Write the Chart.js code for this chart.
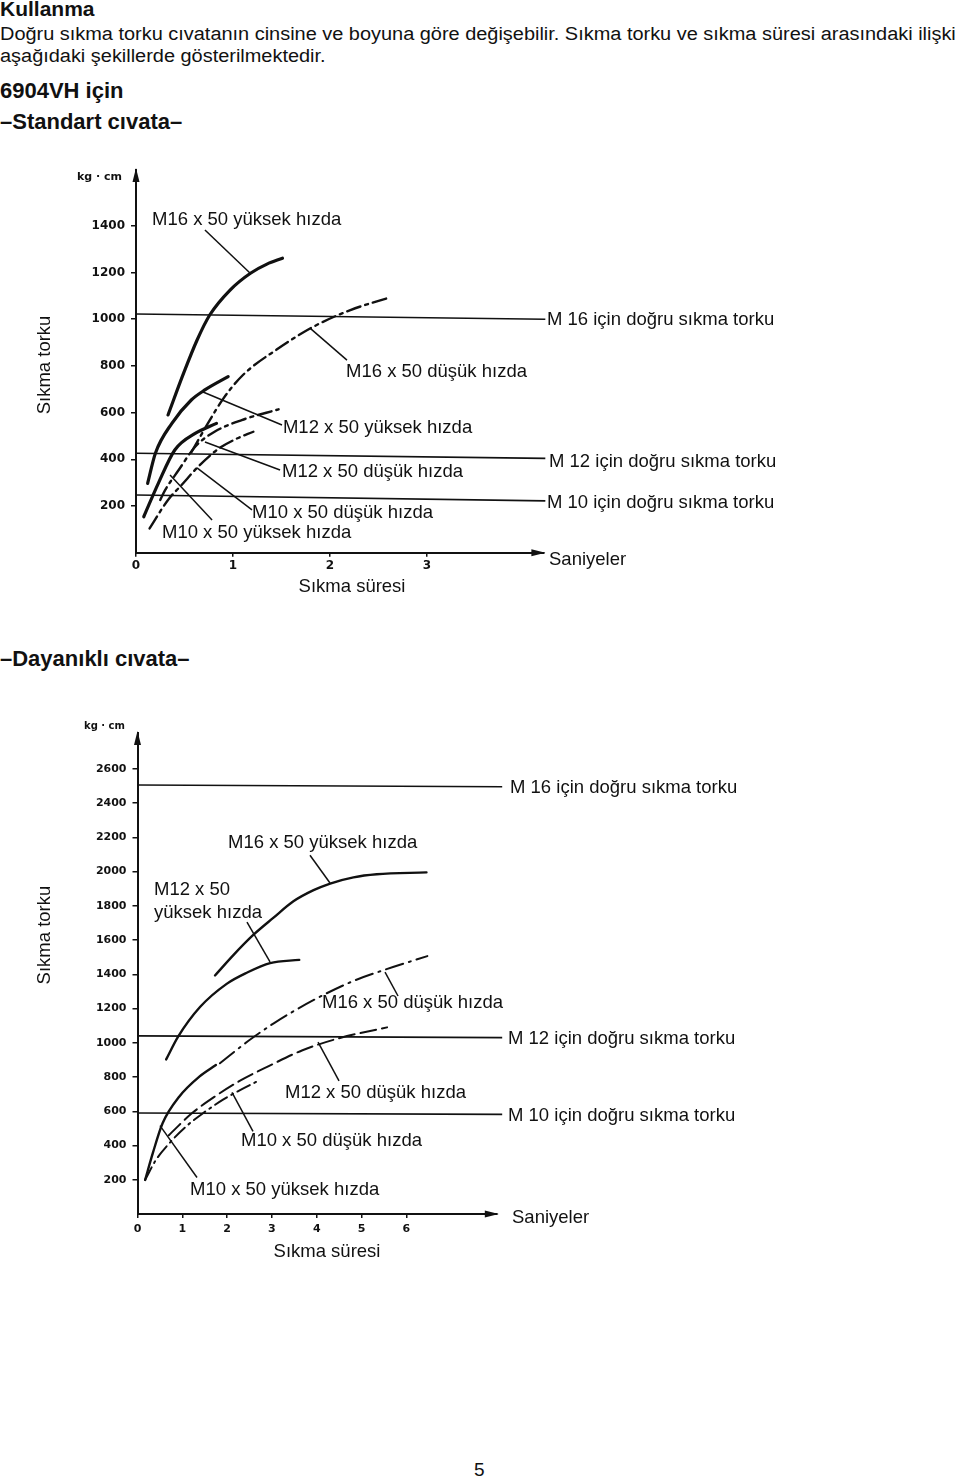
<!DOCTYPE html>
<html lang="tr">
<head>
<meta charset="utf-8">
<title>Sıkma torku ve sıkma süresi</title>
<script src="https://cdn.jsdelivr.net/npm/chart.js@4.4.1/dist/chart.umd.min.js"></script>
<style>
  body { margin: 0; background: #fff; }
  #page { position: relative; width: 960px; height: 1478px; overflow: hidden;
          font-family: "Liberation Sans", Arial, sans-serif; color: #111; }
  .txt { position: absolute; left: 0; white-space: nowrap; line-height: 1; }
  .wide { transform-origin: 0 0; transform: scaleX(1.107); }
  .bold { font-weight: bold; }
  canvas { position: absolute; left: 0; }
</style>
</head>
<body>
<div id="page">
  <div class="txt bold" style="top:-2px;font-size:21px">Kullanma</div>
  <div class="txt wide" style="top:25px;font-size:18px">Doğru sıkma torku cıvatanın cinsine ve boyuna göre değişebilir. Sıkma torku ve sıkma süresi arasındaki ilişki</div>
  <div class="txt wide" style="top:47px;font-size:18px">aşağıdaki şekillerde gösterilmektedir.</div>
  <div class="txt bold" style="top:80px;font-size:22px">6904VH için</div>
  <div class="txt bold" style="top:111px;font-size:22px">–Standart cıvata–</div>
  <canvas id="stdChart" width="960" height="460" style="top:150px"></canvas>
  <div class="txt bold" style="top:648px;font-size:22px">–Dayanıklı cıvata–</div>
  <canvas id="durChart" width="960" height="580" style="top:700px"></canvas>
  <div class="txt" style="top:1460px;left:474px;font-size:19px">5</div>
</div>

<script>
const INK = "#111";
const LABEL_FONT = "18.5px 'Liberation Sans', Arial, sans-serif";
Chart.defaults.font.family = "'DejaVu Sans', sans-serif";

// --- Standart cıvata: [saniye, kg·cm] ---
const std_m16_high = [[0.33, 590], [0.49, 768], [0.63, 911], [0.76, 1018], [0.97, 1125], [1.18, 1197], [1.35, 1236], [1.51, 1261]];
const std_m16_low = [[0.57, 430], [0.75, 560], [0.9, 660], [1.1, 760], [1.45, 870], [1.83, 968], [2.21, 1039], [2.62, 1094]];
const std_m12_high = [[0.12, 297], [0.2, 426], [0.37, 554], [0.57, 654], [0.71, 697], [0.95, 754]];
const std_m12_low = [[0.25, 226], [0.3, 268], [0.44, 354], [0.61, 454], [0.81, 518], [1.09, 568], [1.47, 614]];
const std_m10_high = [[0.08, 154], [0.23, 297], [0.4, 440], [0.61, 511], [0.83, 554]];
const std_m10_low = [[0.14, 104], [0.33, 226], [0.47, 290], [0.64, 368], [0.85, 445], [1.02, 485], [1.21, 518]];
// doğru sıkma torku çizgileri (baş, son)
const std_ref_m16 = [[0, 1022], [4.22, 1000]];
const std_ref_m12 = [[0, 426], [4.22, 404]];
const std_ref_m10 = [[0, 247], [4.22, 222]];
const std_x_ticks = [0, 1, 2, 3];
const std_y_ticks = [200, 400, 600, 800, 1000, 1200, 1400];

// --- Dayanıklı cıvata ---
const dur_m16_high = [[1.73, 1393], [2.14, 1512], [2.59, 1631], [3.03, 1729], [3.48, 1826], [3.93, 1891], [4.3, 1930], [4.82, 1966], [5.34, 1984], [6.45, 1995]];
const dur_m16_low = [[1.84, 880], [2.47, 1010], [3.05, 1115], [3.95, 1252], [4.82, 1361], [5.56, 1430], [6.47, 1506]];
const dur_m12_high = [[0.64, 903], [0.91, 1037], [1.4, 1210], [1.99, 1344], [2.44, 1409], [2.96, 1465], [3.61, 1484]];
const dur_m12_low = [[0.7, 460], [1.2, 585], [1.75, 690], [2.3, 780], [2.94, 865], [3.67, 955], [4.52, 1028], [5.57, 1090]];
const dur_m10_high = [[0.17, 199], [0.34, 354], [0.56, 530], [0.93, 685], [1.38, 802], [1.75, 870]];
const dur_m10_low = [[0.17, 199], [0.41, 315], [0.71, 413], [1.08, 510], [1.46, 588], [1.9, 666], [2.3, 725], [2.73, 782]];
const dur_ref_m16 = [[0, 2505], [8.14, 2495]];
const dur_ref_m12 = [[0, 1040], [8.14, 1030]];
const dur_ref_m10 = [[0, 590], [8.14, 582]];
const dur_x_ticks = [0, 1, 2, 3, 4, 5, 6];
const dur_y_ticks = [200, 400, 600, 800, 1000, 1200, 1400, 1600, 1800, 2000, 2200, 2400, 2600];

const notesPlugin = {
  id: "notes",
  afterDraw(chart, args, opts) {
    const { ctx, chartArea: a } = chart;
    const px = (v) => chart.scales.x.getPixelForValue(v);
    const py = (v) => chart.scales.y.getPixelForValue(v);
    ctx.save();
    ctx.strokeStyle = INK;
    ctx.fillStyle = INK;
    ctx.lineWidth = 1.5;
    opts.leaders.forEach(([x1, y1, x2, y2]) => {
      ctx.beginPath();
      ctx.moveTo(px(x1), py(y1));
      ctx.lineTo(px(x2), py(y2));
      ctx.stroke();
    });
    // axis arrow heads
    ctx.beginPath();
    ctx.moveTo(a.left, a.top - 2);
    ctx.lineTo(a.left - 3.5, a.top + 12);
    ctx.lineTo(a.left + 3.5, a.top + 12);
    ctx.closePath();
    ctx.fill();
    ctx.beginPath();
    ctx.moveTo(a.right + 2, a.bottom);
    ctx.lineTo(a.right - 12, a.bottom - 3.5);
    ctx.lineTo(a.right - 12, a.bottom + 3.5);
    ctx.closePath();
    ctx.fill();
    opts.texts.forEach((t) => {
      ctx.font = t.font || LABEL_FONT;
      ctx.textAlign = t.align || "left";
      ctx.textBaseline = t.baseline || "alphabetic";
      if (t.rotate) {
        ctx.save();
        ctx.translate(px(t.x), py(t.y));
        ctx.rotate(-Math.PI / 2);
        ctx.textAlign = "center";
        ctx.textBaseline = "middle";
        ctx.fillText(t.text, 0, 0);
        ctx.restore();
      } else {
        ctx.fillText(t.text, px(t.x), py(t.y));
      }
    });
    ctx.restore();
  },
};

function curve(points, width, dash) {
  return {
    data: points.map(([x, y]) => ({ x, y })),
    borderColor: INK,
    borderWidth: width,
    borderDash: dash || [],
    borderCapStyle: "round",
    pointRadius: 0,
    cubicInterpolationMode: "monotone",
    fill: false,
    clip: false,
  };
}

function refLine(points) {
  return {
    data: points.map(([x, y]) => ({ x, y })),
    borderColor: INK,
    borderWidth: 1.6,
    pointRadius: 0,
    tension: 0,
    clip: false,
  };
}

function makeChart(id, c) {
  const canvas = document.getElementById(id);
  return new Chart(canvas, {
    type: "line",
    data: { datasets: c.datasets },
    plugins: [notesPlugin],
    options: {
      responsive: false,
      animation: false,
      layout: { padding: { left: 0, top: c.box.top, right: canvas.width - c.box.right, bottom: 0 } },
      plugins: {
        legend: { display: false },
        tooltip: { enabled: false },
        notes: { texts: c.texts, leaders: c.leaders },
      },
      scales: {
        x: {
          type: "linear",
          position: "bottom",
          min: 0,
          max: c.xMax,
          afterBuildTicks: (s) => { s.ticks = c.xTicks.map((v) => ({ value: v })); },
          afterFit: (s) => { s.height = canvas.height - c.box.bottom; },
          border: { display: true, color: INK, width: 2 },
          grid: { drawOnChartArea: false, tickLength: 4, lineWidth: 1.5, color: INK },
          ticks: {
            autoSkip: false,
            maxRotation: 0,
            padding: c.xPad,
            color: INK,
            font: { size: c.tickSize, weight: "bold" },
            callback: (v) => String(v),
          },
        },
        y: {
          type: "linear",
          position: "left",
          min: 0,
          max: c.yMax,
          afterBuildTicks: (s) => { s.ticks = c.yTicks.map((v) => ({ value: v })); },
          afterFit: (s) => { s.width = c.box.left; },
          border: { display: true, color: INK, width: 2 },
          grid: { drawOnChartArea: false, tickLength: 5, lineWidth: 1.5, color: INK },
          ticks: {
            autoSkip: false,
            padding: 6,
            color: INK,
            font: { size: c.tickSize, weight: "bold" },
            callback: (v) => String(v),
          },
        },
      },
    },
  });
}

const DASH_DOT = [14, 5, 3, 5];

makeChart("stdChart", {
  box: { left: 136, top: 20, right: 543.4, bottom: 402.7 },
  xMax: 4.2,
  yMax: 1639,
  xTicks: std_x_ticks,
  yTicks: std_y_ticks,
  tickSize: 12,
  xPad: 2,
  datasets: [
    refLine(std_ref_m16),
    refLine(std_ref_m12),
    refLine(std_ref_m10),
    curve(std_m16_high, 3.2),
    curve(std_m16_low, 2.4, DASH_DOT),
    curve(std_m12_high, 3.2),
    curve(std_m12_low, 2.4, DASH_DOT),
    curve(std_m10_high, 3.2),
    curve(std_m10_low, 2.4, DASH_DOT),
  ],
  texts: [
    { text: "M16 x 50 yüksek hızda", x: 0.165, y: 1403 },
    { text: "M16 x 50 düşük hızda", x: 2.165, y: 753 },
    { text: "M12 x 50 yüksek hızda", x: 1.515, y: 513 },
    { text: "M12 x 50 düşük hızda", x: 1.505, y: 324 },
    { text: "M10 x 50 düşük hızda", x: 1.196, y: 149 },
    { text: "M10 x 50 yüksek hızda", x: 0.268, y: 63 },
    { text: "M 16 için doğru sıkma torku", x: 4.237, y: 975 },
    { text: "M 12 için doğru sıkma torku", x: 4.258, y: 367 },
    { text: "M 10 için doğru sıkma torku", x: 4.237, y: 192 },
    { text: "Saniyeler", x: 4.258, y: -53 },
    { text: "Sıkma süresi", x: 2.227, y: -169, align: "center" },
    { text: "kg · cm", x: -0.144, y: 1609, align: "right", baseline: "middle", font: "bold 11px 'DejaVu Sans', sans-serif" },
    { text: "Sıkma torku", x: -0.938, y: 804, rotate: true },
  ],
  leaders: [
    [0.711, 1382, 1.175, 1198],
    [2.175, 825, 1.794, 962],
    [1.505, 547, 0.691, 688],
    [1.485, 354, 0.711, 474],
    [1.196, 183, 0.629, 363],
    [0.784, 140, 0.351, 333],
  ],
});

makeChart("durChart", {
  box: { left: 137.5, top: 33, right: 496.8, bottom: 514 },
  xMax: 8.02,
  yMax: 2809,
  xTicks: dur_x_ticks,
  yTicks: dur_y_ticks,
  tickSize: 11,
  xPad: 5,
  datasets: [
    refLine(dur_ref_m16),
    refLine(dur_ref_m12),
    refLine(dur_ref_m10),
    curve(dur_m16_high, 2.4),
    curve(dur_m16_low, 2, [18, 6, 2, 6]),
    curve(dur_m12_high, 2.4),
    curve(dur_m12_low, 2, [16, 6]),
    curve(dur_m10_high, 2.4),
    curve(dur_m10_low, 2, [14, 5, 2, 5]),
  ],
  texts: [
    { text: "M16 x 50 yüksek hızda", x: 2.02, y: 2137 },
    { text: "M12 x 50", x: 0.368, y: 1863 },
    { text: "yüksek hızda", x: 0.368, y: 1728 },
    { text: "M16 x 50 düşük hızda", x: 4.118, y: 1203 },
    { text: "M12 x 50 düşük hızda", x: 3.292, y: 677 },
    { text: "M10 x 50 düşük hızda", x: 2.31, y: 397 },
    { text: "M10 x 50 yüksek hızda", x: 1.172, y: 111 },
    { text: "M 16 için doğru sıkma torku", x: 8.315, y: 2458 },
    { text: "M 12 için doğru sıkma torku", x: 8.27, y: 993 },
    { text: "M 10 için doğru sıkma torku", x: 8.27, y: 543 },
    { text: "Saniyeler", x: 8.36, y: -53 },
    { text: "Sıkma süresi", x: 4.23, y: -251, align: "center" },
    { text: "kg · cm", x: -0.28, y: 2850, align: "right", baseline: "middle", font: "bold 10px 'DejaVu Sans', sans-serif" },
    { text: "Sıkma torku", x: -2.065, y: 1629, rotate: true },
  ],
  leaders: [
    [3.85, 2095, 4.297, 1933],
    [2.444, 1705, 2.958, 1472],
    [5.525, 1413, 5.815, 1273],
    [4.03, 1004, 4.498, 777],
    [2.109, 710, 2.578, 483],
    [0.502, 516, 1.328, 213],
  ],
});
</script>
</body>
</html>
